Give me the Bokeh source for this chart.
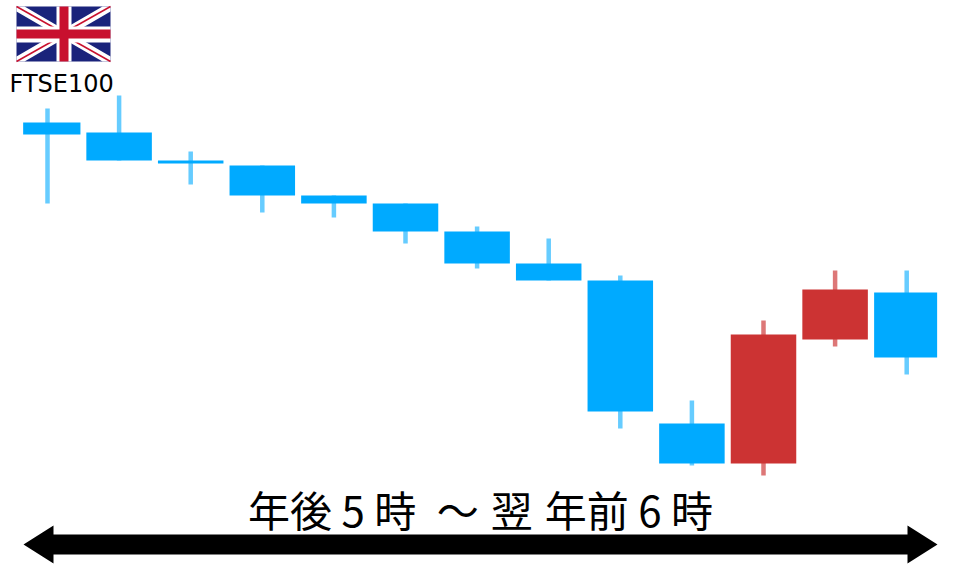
from bokeh.plotting import figure
from bokeh.models import Range1d
from bokeh.core.properties import value
from bokeh.embed import file_html
from bokeh.resources import INLINE

# candle values (arbitrary price units; larger = higher)
opens  = [445, 435, 407, 402, 372, 364, 336, 304, 287, 144, 104, 228, 275]
closes = [433, 407, 404, 372, 364, 336, 304, 287, 156, 104, 233, 278, 210]
highs  = [459, 472, 416, 402, 372, 364, 341, 329, 292, 167, 247, 297, 297]
lows   = [364, 407, 383, 355, 350, 324, 299, 287, 139, 102, 92, 221, 193]
labels = ["FTSE100", "年後 5 時\u2009\u200a ～ \u200a翌\u200a 年前 6 時"]
BLUE, RED = "#00aaff", "#cc3333"
WICK_BLUE, WICK_RED = "#66ccff", "#dd7777"

xs = list(range(len(opens)))
W, H = 960, 567
px_per_i = 71.6
x0 = 47
p = figure(width=W, height=H, output_backend="svg", toolbar_location=None,
           x_range=Range1d((0 - x0) / px_per_i, (W - x0) / px_per_i),
           y_range=Range1d(0, H),
           min_border=0, outline_line_color=None)
p.axis.visible = False
p.grid.visible = False

up = [c > o for o, c in zip(opens, closes)]
wc = [WICK_RED if u else WICK_BLUE for u in up]
bc = [RED if u else BLUE for u in up]
p.segment(xs, lows, xs, highs, line_color=wc, line_width=4.5)
widths = [0.8] + [0.915] * 11 + [0.88]
shift = [0.06] + [0] * 11 + [-0.015]
cx = [x + s for x, s in zip(xs, shift)]
tops = [max(o, c) for o, c in zip(opens, closes)]
bots = [min(o, c) for o, c in zip(opens, closes)]
p.vbar(cx, width=widths, top=tops, bottom=bots, fill_color=bc, line_color=None)

# helpers for decorations given in pixel positions
def X(v): return (v - x0) / px_per_i
def Y(v): return H - v
def rect(x1, y1, x2, y2, c):
    p.patch([X(x1), X(x2), X(x2), X(x1)], [Y(y1), Y(y1), Y(y2), Y(y2)], fill_color=c, line_color=None)
def poly(pts, c):
    p.patch([X(a) for a, b in pts], [Y(b) for a, b in pts], fill_color=c, line_color=None)

# flag
L, R, T, B = 16, 110, 6, 61
NAVY, CRIM = "#1a237b", "#c8102e"
rect(L, T, R, B, NAVY)
d = 5
poly([(L, T), (L + d*1.6, T), (R, B - d), (R, B), (R - d*1.6, B), (L, T + d)], "white")
poly([(R, T), (R, T + d), (L + d*1.6, B), (L, B), (L, B - d), (R - d*1.6, T)], "white")
for (a, b, c, e) in [(L, T, 55, 28), (110, 61, 71, 39), (R, T, 71, 28), (L, B, 55, 39)]:
    p.line([X(a), X(c)], [Y(b), Y(e)], line_color=CRIM, line_width=1.5)
rect(L, 26, R, 42, "white")
rect(56, T, 71, B, "white")
rect(L, 29, R, 38, CRIM)
rect(59, T, 68, B, CRIM)

# arrow
poly([(23, 544), (53, 525), (53, 534), (907, 534), (907, 525), (937, 544),
      (907, 563), (907, 554), (53, 554), (53, 563)], "black")

p.text([X(9)], [Y(83)], text=[labels[0]], text_font=value("DejaVu Sans"), text_font_size="24px",
       text_color="black", text_baseline="middle", text_align="left")
p.text([X(480)], [Y(508)], text=[labels[1]], text_font=value("Noto Sans CJK JP"), text_font_size="42px",
       text_color="black", text_baseline="middle", text_align="center")

open("out.html", "w").write(file_html(p, INLINE))
